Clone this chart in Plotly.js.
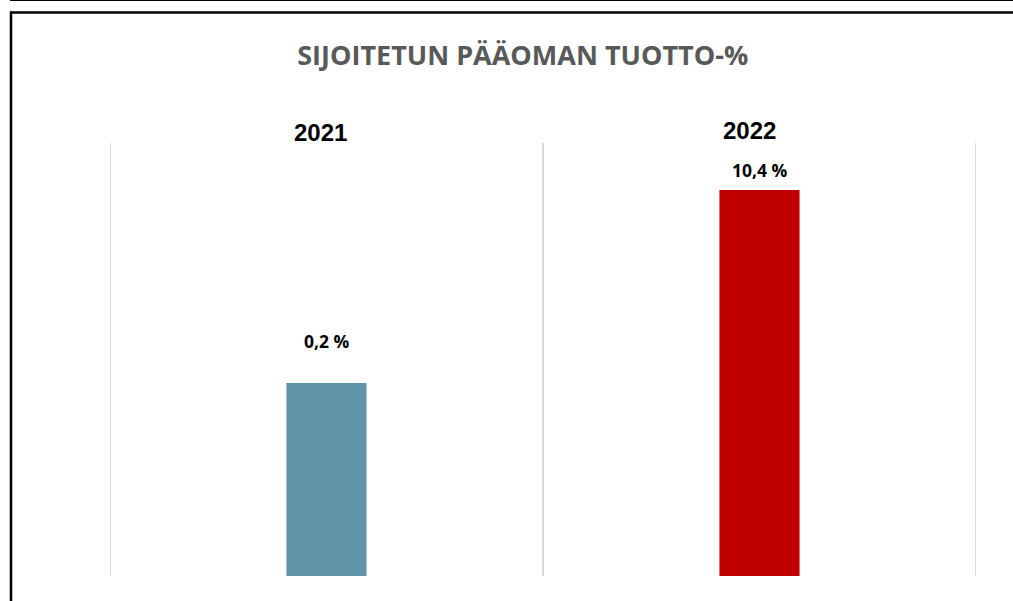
<!DOCTYPE html>
<html>
<head>
<meta charset="utf-8">
<script src="https://cdn.plot.ly/plotly-3.0.1.min.js"></script>
<style>html,body{margin:0;padding:0;background:#fff;}#chart{width:1013px;height:601px;}</style>
</head>
<body>
<div id="chart"></div>
<script>
// ---- data ----
var years = ['2021', '2022'];
var values = [0.2, 10.4];
var valueLabels = ['0,2 %', '10,4 %'];
var barColors = ['#6095A8', '#C00000'];
var chartTitle = 'SIJOITETUN PÄÄOMAN TUOTTO-%';

// ---- style / layout config ----
var AXIS_MIN = -10;   // value axis starts below zero (as in original chart)
var AXIS_MAX = 12.88;
var labelYShift = [42, 20];
var yearShift = [{x: -6, y: 0}, {x: -10, y: 2}];

var idx = years.map(function (_, i) { return i; });

var trace = {
  type: 'bar',
  x: idx,
  y: values.map(function (v) { return v - AXIS_MIN; }),
  base: AXIS_MIN,
  width: 0.185,
  marker: {color: barColors},
  hoverinfo: 'skip'
};

var W = 866, H = 433;
function px(xp) { return (xp - 110) / W; }
function py(yp) { return (576 - yp) / H; }

var shapes = [];
// category dividers (gridlines)
for (var k = 0; k <= years.length; k++) {
  shapes.push({type: 'line', xref: 'x', yref: 'paper', x0: k - 0.5, x1: k - 0.5, y0: 0, y1: 1,
    line: {color: '#D9D9D9', width: 2}, layer: 'below'});
}
// outer frame lines
shapes.push({type: 'line', xref: 'paper', yref: 'paper', x0: px(10), x1: px(1013), y0: py(0.5), y1: py(0.5), line: {color: '#000', width: 1}});
shapes.push({type: 'line', xref: 'paper', yref: 'paper', x0: px(10), x1: px(1013), y0: py(12.5), y1: py(12.5), line: {color: '#000', width: 2.5}});
shapes.push({type: 'line', xref: 'paper', yref: 'paper', x0: px(11), x1: px(11), y0: py(11.5), y1: py(601), line: {color: '#000', width: 2.5}});

var annotations = [];
years.forEach(function (yr, i) {
  annotations.push({
    x: i, y: 1, xref: 'x', yref: 'paper', text: '<b>' + yr + '</b>', showarrow: false,
    yanchor: 'middle', yshift: 10.5 + yearShift[i].y, xshift: yearShift[i].x,
    font: {family: 'Liberation Sans, Arial, sans-serif', size: 24, color: '#000'}
  });
  annotations.push({
    x: i, y: values[i], xref: 'x', yref: 'y', text: '<b>' + valueLabels[i] + '</b>', showarrow: false,
    yanchor: 'middle', yshift: labelYShift[i],
    font: {family: 'Open Sans, sans-serif', size: 17.5, color: '#000'}
  });
});

var layout = {
  width: 1013, height: 601,
  margin: {l: 110, r: 37, t: 143, b: 25, pad: 0},
  paper_bgcolor: '#fff', plot_bgcolor: 'rgba(0,0,0,0)',
  showlegend: false,
  title: {text: '<b>' + chartTitle + '</b>', x: 0.516, xanchor: 'center', y: 0.907, yanchor: 'middle',
    font: {family: 'Open Sans, sans-serif', size: 27, color: '#595959'}},
  xaxis: {range: [-0.5, years.length - 0.5], showgrid: false, zeroline: false, showticklabels: false, ticks: '', fixedrange: true},
  yaxis: {range: [AXIS_MIN, AXIS_MAX], showgrid: false, zeroline: false, showticklabels: false, ticks: '', fixedrange: true},
  shapes: shapes,
  annotations: annotations
};

Plotly.newPlot('chart', [trace], layout, {displayModeBar: false, staticPlot: true});
</script>
</body>
</html>
